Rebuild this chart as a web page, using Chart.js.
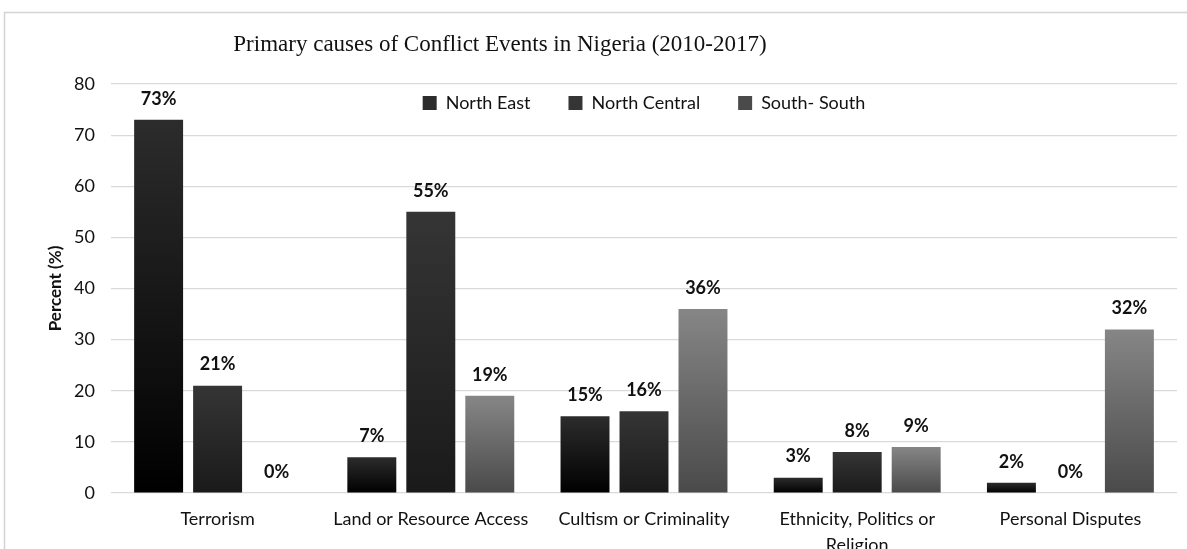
<!DOCTYPE html>
<html>
<head>
<meta charset="utf-8">
<script src="https://cdn.jsdelivr.net/npm/chart.js@4.4.1/dist/chart.umd.min.js"></script>
<style>
  html, body { margin: 0; padding: 0; background: #fff; }
  #wrap { width: 1187px; height: 549px; }
</style>
</head>
<body>
<div id="wrap"><canvas id="myChart" width="1187" height="549"></canvas></div>
<script>
// data
const categories = ['Terrorism', 'Land or Resource Access', 'Cultism or Criminality', ['Ethnicity, Politics or', 'Religion'], 'Personal Disputes'];
const northEast = [73, 7, 15, 3, 2];
const northCentral = [21, 55, 16, 8, 0];
const southSouth = [0, 19, 36, 9, 32];
const seriesNames = ['North East', 'North Central', 'South- South'];
const yMax = 80;
const yStep = 10;
const chartTitle = 'Primary causes of Conflict Events in Nigeria (2010-2017)';

const LEGEND_FONT = 18;
const LEGEND_PAD = 38;

Chart.defaults.font.family = 'Lato, "Open Sans", sans-serif';
Chart.defaults.color = '#111';

// vertical gradient per bar, from its top down to the zero line
function barFill(top, bottom, flat) {
  return function(ctx) {
    const chart = ctx.chart;
    if (ctx.type !== 'data' || !chart.chartArea || !chart.scales.y) return flat;
    const y = chart.scales.y;
    const v = ctx.parsed ? ctx.parsed.y : ctx.raw;
    const y0 = y.getPixelForValue(v);
    const y1 = y.getPixelForValue(0);
    if (y1 - y0 < 1) return bottom;
    const g = chart.ctx.createLinearGradient(0, y0, 0, y1);
    g.addColorStop(0, top);
    g.addColorStop(1, bottom);
    return g;
  };
}

const framePlugin = {
  id: 'frame',
  beforeDraw(chart) {
    const c = chart.ctx;
    c.save();
    c.fillStyle = '#fff';
    c.fillRect(0, 0, chart.width, chart.height);
    c.strokeStyle = '#d4d4d4';
    c.lineWidth = 1.5;
    c.beginPath();
    c.moveTo(4.5, chart.height);
    c.lineTo(4.5, 12.5);
    c.lineTo(chart.width, 12.5);
    c.stroke();
    c.font = '23px "Liberation Serif", "Times New Roman", serif';
    c.fillStyle = '#111';
    c.textAlign = 'center';
    c.textBaseline = 'middle';
    c.fillText(chartTitle, 500, 45);
    c.restore();
  },
  afterLayout(chart) {
    // legend sits inside the plot, just under the 80 gridline
    const lg = chart.legend;
    if (!lg) return;
    const h = lg.height;
    lg.top = 103 - LEGEND_PAD - LEGEND_FONT / 2;
    lg.bottom = lg.top + h;
  }
};

const valueLabels = {
  id: 'valueLabels',
  afterDatasetsDraw(chart) {
    const c = chart.ctx;
    c.save();
    c.font = 'bold 18px Lato, sans-serif';
    c.fillStyle = '#111';
    c.textAlign = 'center';
    c.textBaseline = 'middle';
    chart.data.datasets.forEach((ds, i) => {
      chart.getDatasetMeta(i).data.forEach((bar, j) => {
        c.fillText(ds.data[j] + '%', bar.x, bar.y - 21);
      });
    });
    c.restore();
  }
};

const config = {
  type: 'bar',
  data: {
    labels: categories,
    datasets: [{
      label: seriesNames[0],
      data: northEast,
      backgroundColor: barFill('#2c2c2c', '#000000', '#151515')
    }, {
      label: seriesNames[1],
      data: northCentral,
      backgroundColor: barFill('#353535', '#1a1a1a', '#262626')
    }, {
      label: seriesNames[2],
      data: southSouth,
      backgroundColor: barFill('#868686', '#4a4a4a', '#666666')
    }]
  },
  options: {
    responsive: false,
    animation: false,
    categoryPercentage: 0.83,
    barPercentage: 0.83,
    layout: {
      padding: { top: 84 - (LEGEND_FONT + LEGEND_PAD + 10), right: 10, bottom: 0, left: 0 }
    },
    plugins: {
      title: { display: false },
      tooltip: { enabled: false },
      legend: {
        position: 'top',
        fullSize: false,
        labels: {
          boxWidth: 14,
          boxHeight: 14,
          padding: LEGEND_PAD,
          font: { size: LEGEND_FONT },
          color: '#111'
        }
      }
    },
    scales: {
      x: {
        grid: { display: false, drawTicks: false },
        border: { display: false },
        ticks: { padding: 14, font: { size: 18, lineHeight: 1.4 }, color: '#111', maxRotation: 0, autoSkip: false },
        afterFit(scale) { scale.height = 56; }
      },
      y: {
        min: 0,
        max: yMax,
        ticks: { stepSize: yStep, padding: 16, font: { size: 18 }, color: '#111' },
        grid: { color: '#d9d9d9', lineWidth: 1.2, drawTicks: false },
        border: { display: false },
        title: {
          display: true,
          text: 'Percent (%)',
          font: { size: 17, weight: 'bold' },
          color: '#111',
          padding: { top: 45, bottom: 0 }
        },
        afterFit(scale) { scale.width = 111; }
      }
    }
  },
  plugins: [framePlugin, valueLabels]
};

const canvas = document.getElementById('myChart');
const myChart = new Chart(canvas, config);
</script>
</body>
</html>
